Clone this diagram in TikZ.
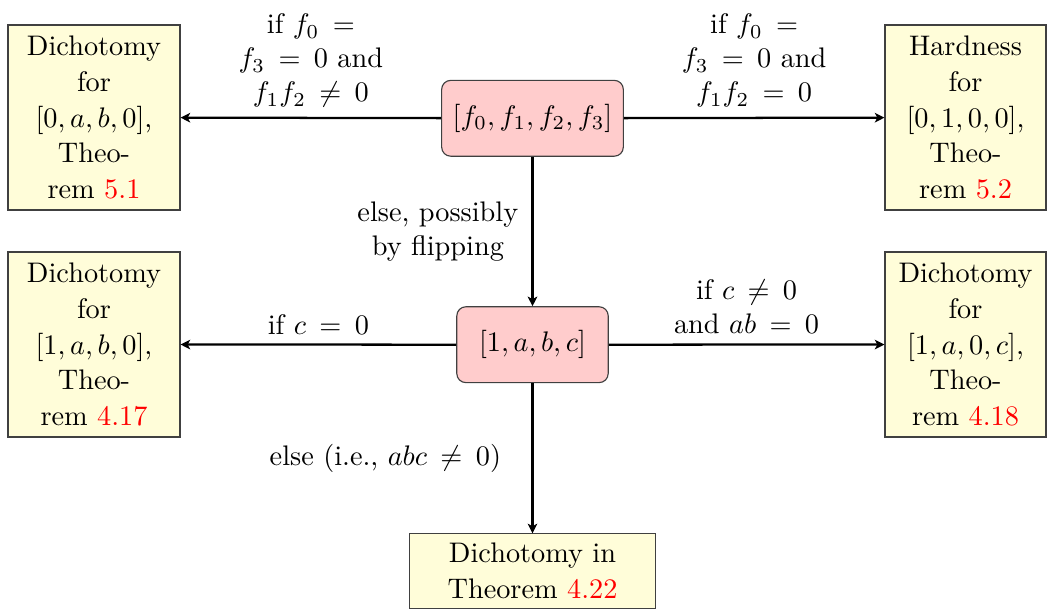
\documentclass[tikz,border=0pt]{standalone}
\usetikzlibrary{arrows.meta}
\tikzset{
  thmbox/.style={draw=black!75, fill=yellow!15, align=center, inner sep=0pt,
    font=\fontsize{10}{12.55}\selectfont, minimum height=65.4pt},
  casebox/.style={draw=black!75, fill=red!20, rounded corners=3.2pt, align=center,
    inner sep=0pt, minimum height=26.8pt},
  arr/.style={thick, -{Stealth[length=3.4pt,width=3.4pt,inset=0.9pt]}},
  lbl/.style={align=center, inner sep=3.33pt, execute at begin node={\thickmuskip=8.5mu}}
}
\begin{document}
\begin{tikzpicture}[x=0.3534pt,y=-0.3534pt]
\useasboundingbox (0,0) rectangle (1047,609);
% case nodes
\node[casebox, minimum width=64.2pt] (top) at (532.5,118.3) {$[f_0,f_1,f_2,f_3]$};
\node[casebox, minimum width=53.5pt] (mid) at (532.5,344.7) {$[1,a,b,c]$};
% theorem boxes
\node[thmbox, minimum width=60.8pt] (tl) at (94,117.5)
  {Dichotomy\\for\\$[0,a,b,0]$,\\Theo-\\rem \textcolor{red}{5.1}};
\node[thmbox, minimum width=56.9pt] (tr) at (965.5,117.5)
  {Hardness\\for\\$[0,1,0,0]$,\\Theo-\\rem \textcolor{red}{5.2}};
\node[thmbox, minimum width=60.8pt] (ml) at (94,344.5)
  {Dichotomy\\for\\$[1,a,b,0]$,\\Theo-\\rem \textcolor{red}{4.17}};
\node[thmbox, minimum width=56.9pt] (mr) at (965.5,344.5)
  {Dichotomy\\for\\$[1,a,0,c]$,\\Theo-\\rem \textcolor{red}{4.18}};
\node[thmbox, minimum width=86.9pt, minimum height=0pt, inner ysep=3.33pt, anchor=north] (bot) at (532.5,533.3)
  {Dichotomy in\\Theorem \textcolor{red}{4.22}};
% connectors
\draw[arr] (top) -- node[lbl, above] (l1) {if $f_0 =$\\$f_3 = 0$ and\\$f_1f_2 \neq 0$} (tl);
\draw[arr] (top) -- node[lbl, above] (l2) {if $f_0 =$\\$f_3 = 0$ and\\$f_1f_2 = 0$} (tr);
\draw[arr] (top) -- node[lbl, left, xshift=-1.3pt] (l3) {else, possibly\\by flipping} (mid);
\draw[arr] (mid) -- node[lbl, above] (l4) {if $c = 0$} (ml);
\draw[arr] (mid) -- node[lbl, above] (l5) {if $c \neq 0$\\and $ab = 0$} (mr);
\draw[arr] (mid) -- node[lbl, left, xshift=-7.4pt] (l6) {else (i.e., $abc \neq 0$)} (bot);
\end{tikzpicture}
\end{document}
